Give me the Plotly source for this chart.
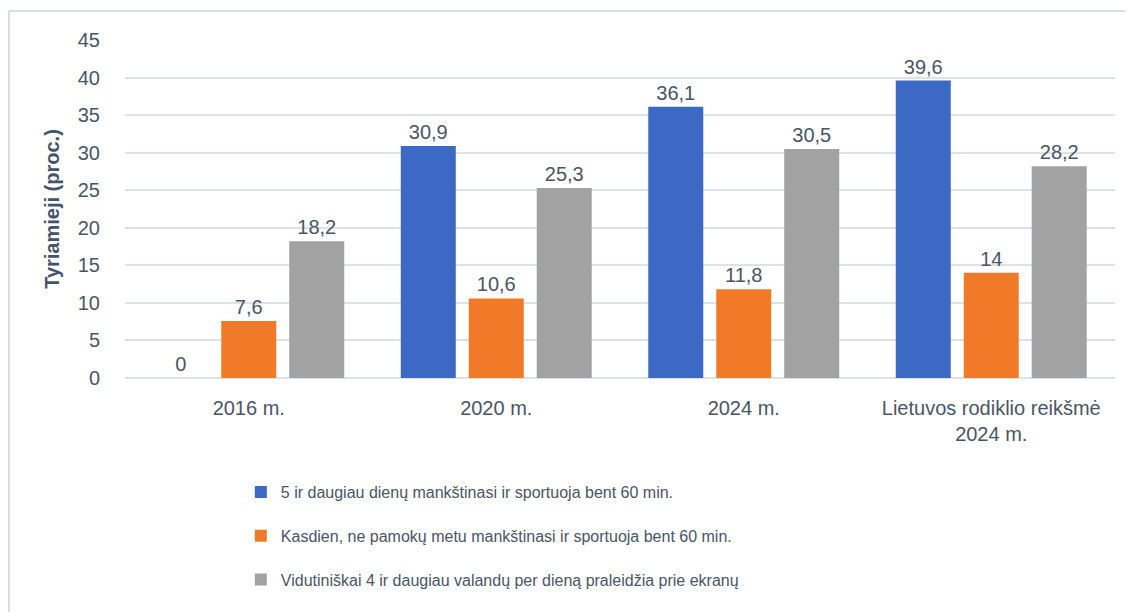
import plotly.graph_objects as go

categories = ["2016 m.", "2020 m.", "2024 m.", "Lietuvos rodiklio reikšmė<br>2024 m."]
series_names = [
    "5 ir daugiau dienų mankštinasi ir sportuoja bent 60 min.",
    "Kasdien, ne pamokų metu mankštinasi ir sportuoja bent 60 min.",
    "Vidutiniškai 4 ir daugiau valandų per dieną praleidžia prie ekranų",
]
blue_vals = [0, 30.9, 36.1, 39.6]
orange_vals = [7.6, 10.6, 11.8, 14]
gray_vals = [18.2, 25.3, 30.5, 28.2]
y_ticks = [0, 5, 10, 15, 20, 25, 30, 35, 40, 45]

colors = ["#3b69c4", "#f07a28", "#a2a2a2"]
text_color = "#4a5568"
font_family = "Liberation Sans, Arial, sans-serif"

def fmt(v):
    s = ("%g" % v)
    return s.replace(".", ",")

# the page body has an 8px default margin, so the figure is sized/offset to compensate
W, H = 1125, 604
L, T, R = 117, 32, 18
PW = W - L - R
PH = 338
B = H - T - PH

fig = go.Figure()
for name, vals, col in zip(series_names, [blue_vals, orange_vals, gray_vals], colors):
    fig.add_trace(go.Bar(
        x=categories, y=vals, name=name, legendgroup=name,
        marker=dict(color=col, line=dict(width=0)),
        text=[fmt(v) for v in vals], textposition="outside",
        textfont=dict(size=20, color=text_color, family=font_family),
        cliponaxis=False,
    ))

# chart-area border (left and top edges visible in the reference)
bx = (1 - L) / PW
by = 1 + (T - 3) / PH

fig.update_layout(
    width=W, height=H,
    margin=dict(l=L, r=R, t=T, b=B, autoexpand=False),
    paper_bgcolor="white", plot_bgcolor="white",
    barmode="group", bargap=0.176, bargroupgap=0.191,
    font=dict(family=font_family, color=text_color),
    showlegend=True,
    legend=dict(
        orientation="v", x=0.117, xanchor="left", y=-0.287, yanchor="top",
        font=dict(size=16, color=text_color, family=font_family),
        tracegroupgap=20, bgcolor="rgba(0,0,0,0)",
    ),
    xaxis=dict(
        showgrid=False, showline=False, ticks="",
        tickfont=dict(size=20, color=text_color, family=font_family),
        ticklabelstandoff=16,
    ),
    yaxis=dict(
        range=[0, 45], tickvals=y_ticks, ticktext=[str(t) for t in y_ticks],
        showgrid=True, gridcolor="#dde1ea", gridwidth=1.5,
        zeroline=True, zerolinecolor="#dde1ea", zerolinewidth=1.5,
        showline=False, ticks="",
        tickfont=dict(size=20, color=text_color, family=font_family),
        ticklabelstandoff=24,
        title=dict(text="<b>Tyriamieji (proc.)</b>", standoff=12,
                   font=dict(size=20, color="#44546a", family=font_family)),
    ),
    shapes=[
        dict(type="line", xref="paper", yref="paper",
             x0=bx, x1=bx, y0=by, y1=-1,
             line=dict(color="#dadde3", width=2)),
        dict(type="line", xref="paper", yref="paper",
             x0=bx, x1=1.1, y0=by, y1=by,
             line=dict(color="#dadde3", width=2)),
    ],
)

fig.write_html("out.html")
